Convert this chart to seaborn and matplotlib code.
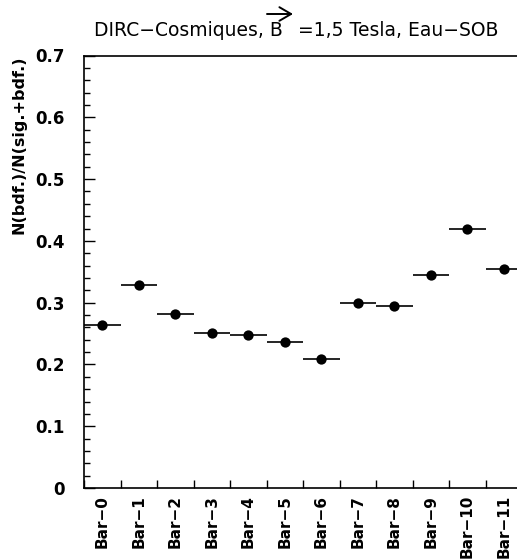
import numpy as np
import pandas as pd
import matplotlib
matplotlib.use("Agg")
import matplotlib.pyplot as plt
import seaborn as sns

# data
bars = ["Bar\u22120", "Bar\u22121", "Bar\u22122", "Bar\u22123", "Bar\u22124", "Bar\u22125",
        "Bar\u22126", "Bar\u22127", "Bar\u22128", "Bar\u22129", "Bar\u221210", "Bar\u221211"]
ratio = [0.264, 0.328, 0.281, 0.251, 0.248, 0.237, 0.209, 0.300, 0.294, 0.345, 0.419, 0.355]

df = pd.DataFrame({"pos": np.arange(len(bars)), "bar": bars, "ratio": ratio})

sns.set_style("ticks")
plt.rcParams["font.family"] = ["DejaVu Sans"]
for key in ["text.color", "axes.labelcolor", "xtick.color", "ytick.color", "axes.edgecolor"]:
    plt.rcParams[key] = "black"

fig = plt.figure(figsize=(5.17, 5.59), dpi=100)
ax = fig.add_axes([84 / 517, 71 / 559, 438 / 517, 432.5 / 559])

# horizontal bin-width lines
ax.errorbar(df["pos"], df["ratio"], xerr=0.5, fmt="none", ecolor="black", elinewidth=1.2, capsize=0)
sns.scatterplot(data=df, x="pos", y="ratio", ax=ax, color="black", s=55, edgecolor="black",
                linewidth=0, zorder=3, legend=False)

ax.set_xlim(-0.5, len(bars) - 0.5)
ax.set_ylim(0, 0.7)

# ticks at the bin edges, labels at the bin centres
ax.set_xticks(np.arange(len(bars) + 1) - 0.5)
ax.set_xticklabels([])
ax.set_xticks(df["pos"], minor=True)
ax.set_xticklabels(bars, minor=True, rotation=90, fontsize=11, fontweight="bold", va="top")
ax.tick_params(axis="x", which="major", direction="in", length=6, width=1)
ax.tick_params(axis="x", which="minor", length=0, pad=5)

ax.set_yticks(np.arange(0, 0.71, 0.1))
ax.set_yticklabels(["0", "0.1", "0.2", "0.3", "0.4", "0.5", "0.6", "0.7"], fontsize=12, fontweight="bold")
ax.set_yticks(np.arange(0, 0.701, 0.02), minor=True)
ax.tick_params(axis="y", which="major", direction="in", length=8, width=1, pad=14)
ax.tick_params(axis="y", which="minor", direction="in", length=4, width=1)

ax.set_xlabel("")
ax.set_ylabel("N(bdf.)/N(sig.+bdf.)", fontsize=11.5, fontweight="bold", loc="top", labelpad=6)

for sp in ax.spines.values():
    sp.set_linewidth(1.2)
ax.spines["right"].set_visible(False)

# title with vector arrow over B
fig.text(283 / 517, 1 - 31 / 559, "DIRC\u2212Cosmiques, B", fontsize=13.5, fontweight="medium",
         ha="right", va="center")
fig.text(298 / 517, 1 - 31 / 559, "=1,5 Tesla, Eau\u2212SOB", fontsize=13.5, fontweight="medium",
         ha="left", va="center")
ax.annotate("", xy=(293 / 517, 1 - 14 / 559), xytext=(267 / 517, 1 - 14 / 559),
            xycoords="figure fraction", textcoords="figure fraction",
            arrowprops=dict(arrowstyle="->,head_length=0.6,head_width=0.35", lw=1.4,
                            color="black", mutation_scale=14, shrinkA=0, shrinkB=0))

fig.savefig("out.png", dpi=100)
